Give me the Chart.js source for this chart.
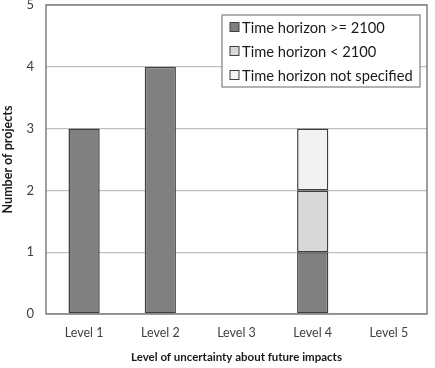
<!DOCTYPE html>
<html><head><meta charset="utf-8">
<script src="https://cdn.jsdelivr.net/npm/chart.js@4"></script>
<style>html,body{margin:0;padding:0;background:#fff}#w{width:435px;height:368px}</style>
</head><body><div id="w"><canvas id="c"></canvas></div>
<script>
const categories = ['Level 1','Level 2','Level 3','Level 4','Level 5'];
const seriesNames = ['Time horizon >= 2100','Time horizon < 2100','Time horizon not specified'];
const horizonAfter2100 = [3,4,0,1,0];
const horizonBefore2100 = [0,0,0,1,0];
const horizonUnspecified = [0,0,0,1,0];
const yTicks = [0,1,2,3,4,5];

const FONT = 'Lato, "Open Sans", sans-serif';
const colors = ['#808080','#d9d9d9','#f2f2f2'];

const legendBox = {
  id:'legendBox',
  afterDraw(chart){
    const ctx = chart.ctx, ca = chart.chartArea;
    ctx.save();
    ctx.strokeStyle = '#7f7f7f'; ctx.lineWidth = 1.5;
    ctx.strokeRect(ca.left, ca.top, ca.right-ca.left, ca.bottom-ca.top);
    const x = ca.right - 205, y = ca.top + 10, w = 198, h = 72;
    ctx.fillStyle = '#fff'; ctx.fillRect(x,y,w,h);
    ctx.strokeStyle = '#7f7f7f'; ctx.lineWidth = 1.2; ctx.strokeRect(x,y,w,h);
    ctx.font = '14.7px ' + FONT; ctx.textBaseline = 'middle'; ctx.textAlign='left';
    chart.data.datasets.forEach((ds,i)=>{
      const cy = y + 12 + i*24;
      ctx.fillStyle = ds.backgroundColor; ctx.fillRect(x+8, cy-4.5, 9, 9);
      ctx.strokeStyle = '#404040'; ctx.lineWidth = 1; ctx.strokeRect(x+8, cy-4.5, 9, 9);
      ctx.fillStyle = '#1a1a1a'; ctx.fillText(ds.label, x+20, cy+1);
    });
    ctx.restore();
  }
};

new Chart(document.getElementById('c'), {
  type:'bar',
  data:{
    labels: categories,
    datasets:[
      {label: seriesNames[0], data: horizonAfter2100, backgroundColor: colors[0]},
      {label: seriesNames[1], data: horizonBefore2100, backgroundColor: colors[1]},
      {label: seriesNames[2], data: horizonUnspecified, backgroundColor: colors[2]}
    ].map(d=>Object.assign(d,{borderColor:'#404040',borderWidth:1.5,borderSkipped:false,categoryPercentage:1,barPercentage:0.41}))
  },
  options:{
    responsive:true, maintainAspectRatio:false, animation:false,
    layout:{padding:{left:0,right:8,top:0,bottom:0}},
    plugins:{legend:{display:false}, tooltip:{enabled:false}},
    scales:{
      x:{stacked:true,
        grid:{display:false, drawTicks:false},
        border:{display:false},
        ticks:{color:'#404040', font:{family:FONT,size:12.5}, padding:11},
        title:{display:true, text:'Level of uncertainty about future impacts', color:'#1a1a1a', font:{family:FONT,size:11.5,weight:'bold'}, padding:{top:12,bottom:4}},
        afterFit(s){ s.height = 54; }
      },
      y:{stacked:true, min:0, max:5,
        afterBuildTicks(s){ s.ticks = yTicks.map(v=>({value:v})); },
        grid:{color:'#c0c0c0', lineWidth:1.2, drawTicks:false},
        border:{display:false},
        ticks:{color:'#404040', font:{family:FONT,size:13}, padding:12},
        title:{display:true, text:'Number of projects', color:'#1a1a1a', font:{family:FONT,size:12.5,weight:'bold'}, padding:{top:0,bottom:4}},
        afterFit(s){ s.width = 46; s.paddingTop = 5; s.paddingBottom = 0; }
      }
    }
  },
  plugins:[legendBox]
});
</script></body></html>
